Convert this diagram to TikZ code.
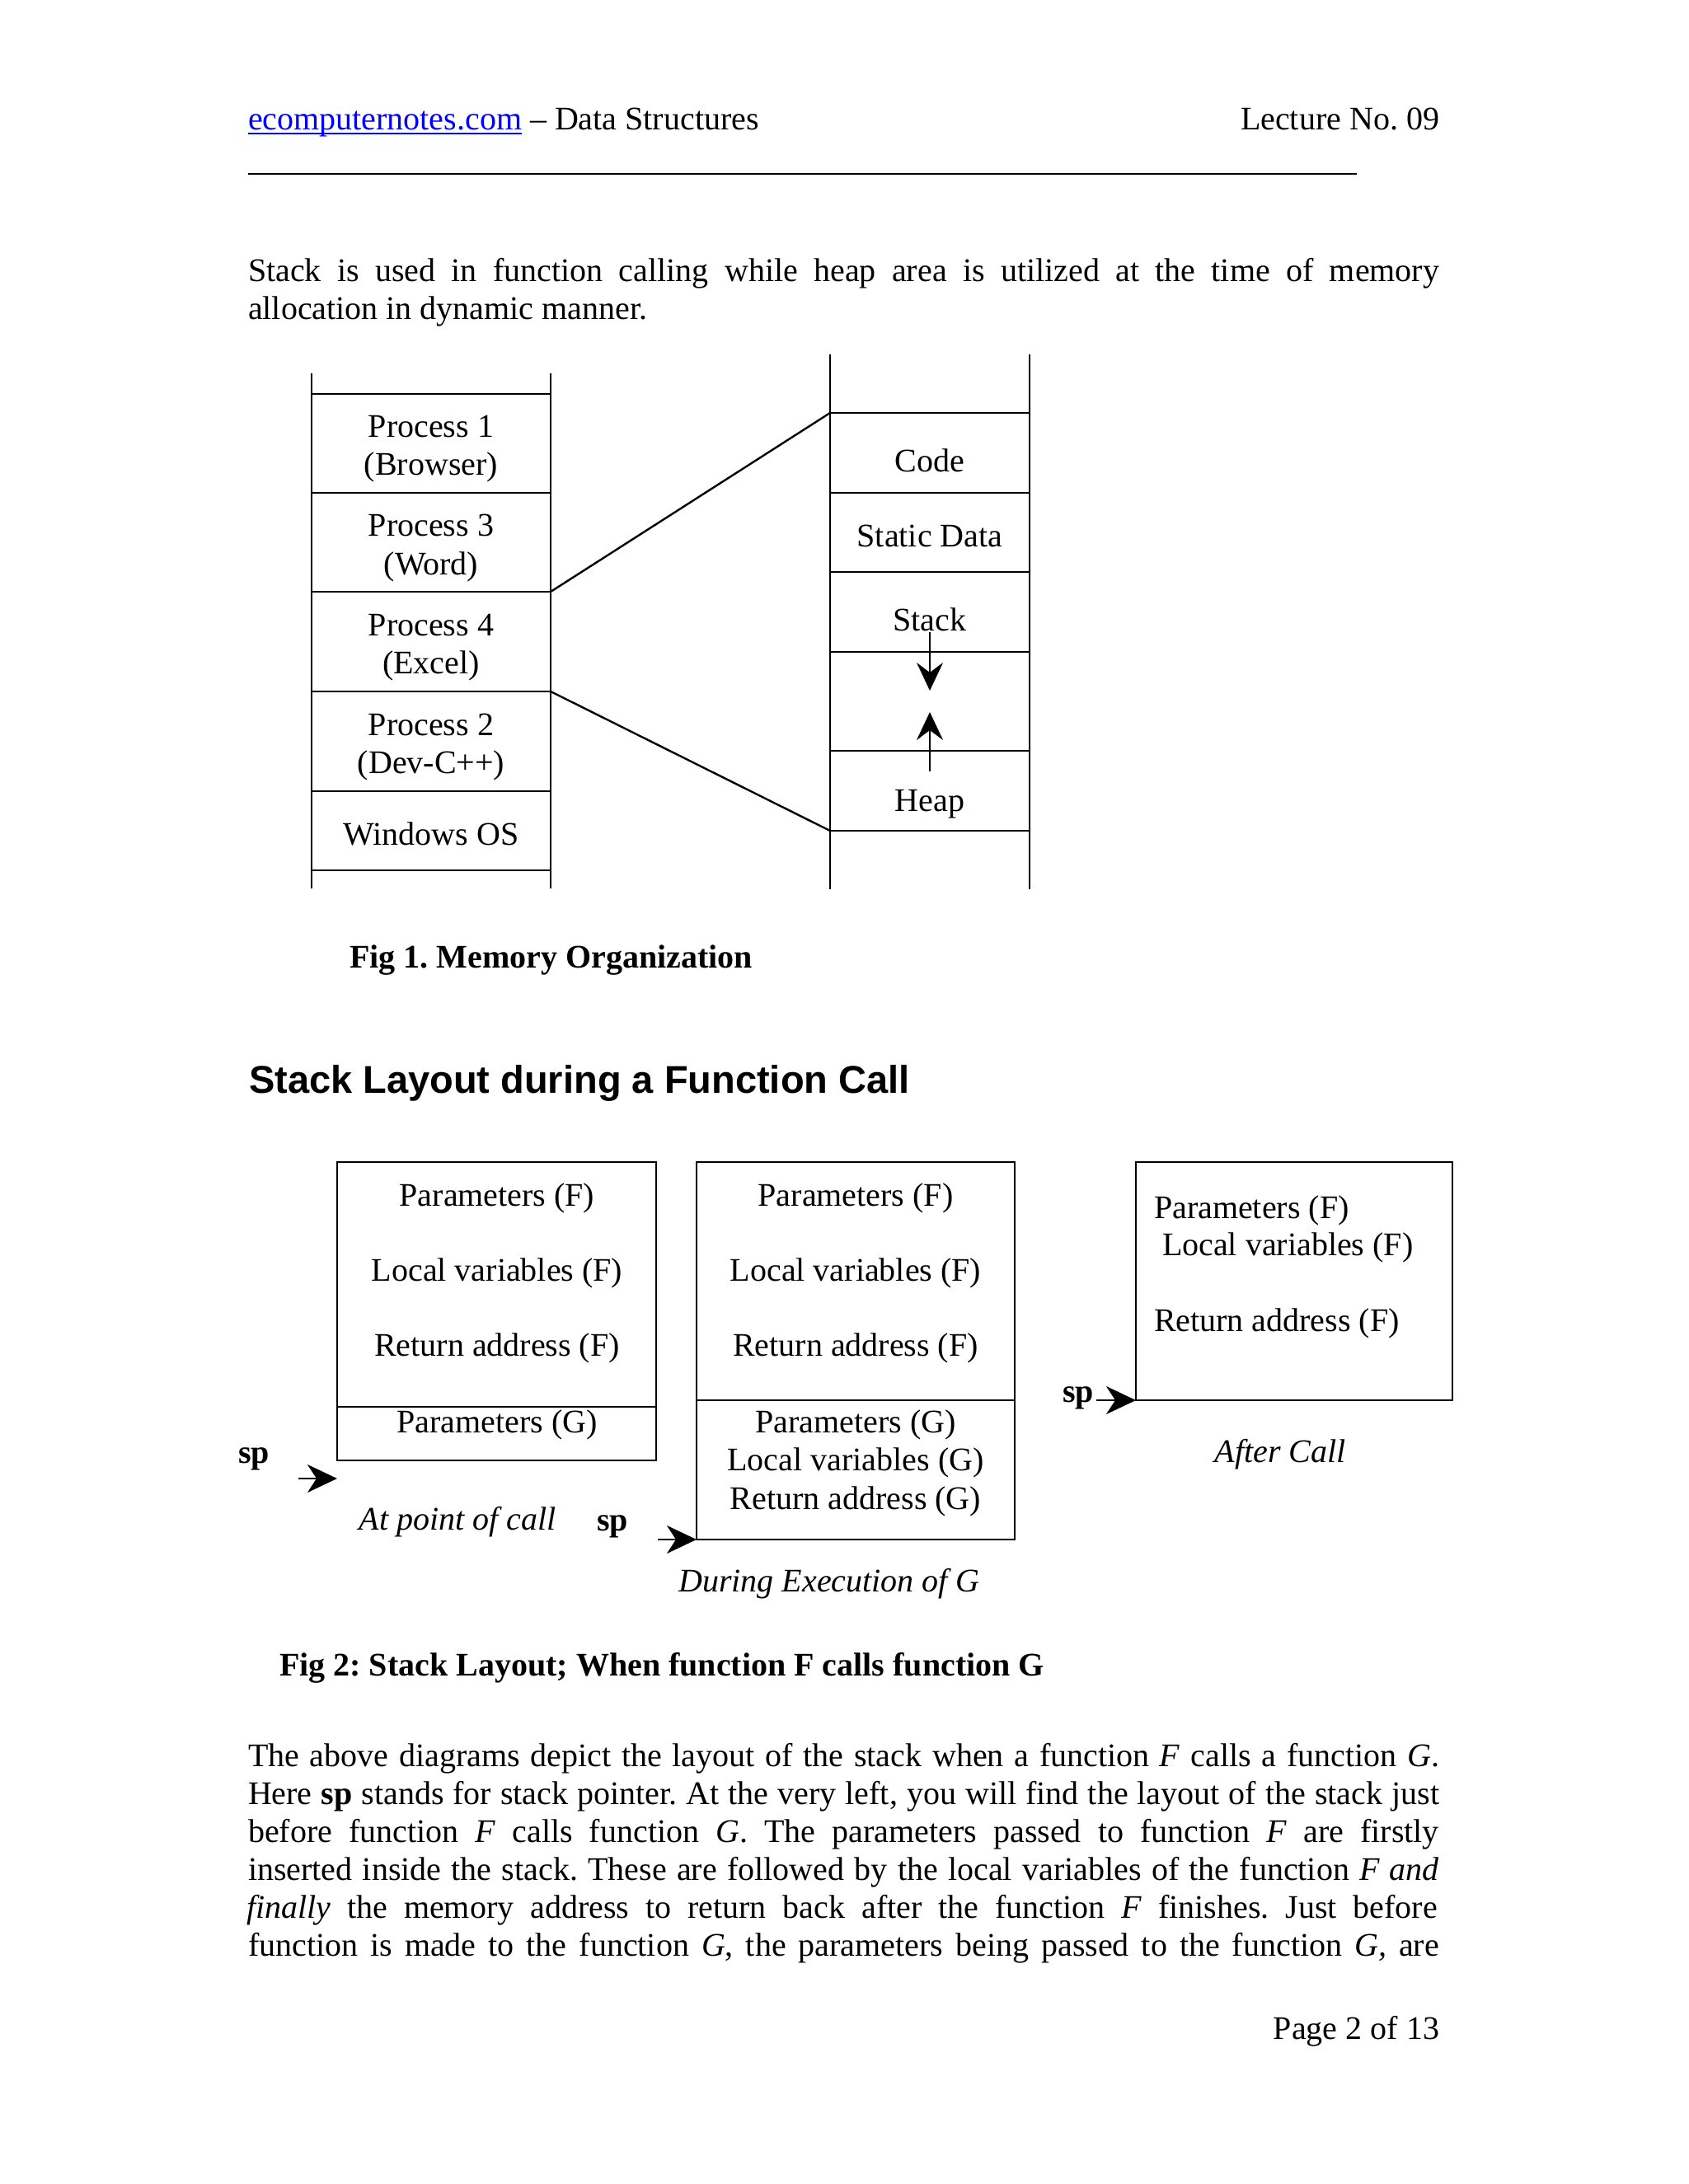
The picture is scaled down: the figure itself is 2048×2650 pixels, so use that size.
\documentclass[tikz,border=0pt]{standalone}
\usepackage{fontspec}
\setmainfont{Liberation Serif}
\newfontfamily\headfont{Liberation Sans}
\usetikzlibrary{arrows.meta}
\newcommand{\jline}[1]{\makebox[1445pt][s]{#1}}
\frenchspacing
\begin{document}
\frenchspacing
\begin{tikzpicture}[x=1pt,y=-1pt,
  every node/.style={inner sep=0pt, outer sep=0pt, font=\fontsize{40}{46}\selectfont},
  lnw/.style={line width=2.4pt},
  growtip/.style={-{Stealth[length=34pt,width=32pt,inset=12pt]}, line width=2.4pt},
  sptip/.style={-{Stealth[length=36pt,width=34pt,inset=11pt]}, line width=2.4pt},
  splabel/.style={font=\fontsize{40}{46}\selectfont\bfseries, anchor=base},
  itlabel/.style={font=\fontsize{40}{46}\selectfont\itshape, anchor=base},
  boldcap/.style={font=\fontsize{40}{46}\selectfont\bfseries, anchor=base west},
  cell/.style={anchor=base}]
\useasboundingbox[fill=white] (0,0) rectangle (2048,2650);

% ---------- header ----------
\node[anchor=base west, text=blue] (url) at (301,157) {ecomputernotes.com};
\draw[blue, line width=2pt] ([yshift=-5pt]url.base west) -- ([yshift=-5pt]url.base east);
\node[anchor=base west] (hdr) at (url.base east) {~– Data Structures};
\node[anchor=base east] (lec) at (1746,157) {Lecture No. 09};
\coordinate (ruleA) at (301,211);
\coordinate (ruleB) at (1646,211);
\draw[lnw] (ruleA) -- (ruleB);

% ---------- intro paragraph ----------
\node[anchor=base west] (p1a) at (301,341) {\jline{Stack is used in function calling while heap area is utilized at the time of memory}};
\node[anchor=base west] (p1b) at (301,387) {allocation in dynamic manner.};

% ---------- Fig 1 left column ----------
\draw[lnw] (378,453) -- (378,1078);
\draw[lnw] (668,453) -- (668,1078);
\foreach \yy in {478,598,718,839,960,1056} \draw[lnw] (378,\yy) -- (668,\yy);
\node[cell] (pr1a) at (523,530) {Process 1};
\node[cell] (pr1b) at (523,576) {(Browser)};
\node[cell] (pr3a) at (523,650) {Process 3};
\node[cell] (pr3b) at (523,697) {(Word)};
\node[cell] (pr4a) at (523,771) {Process 4};
\node[cell] (pr4b) at (523,817) {(Excel)};
\node[cell] (pr2a) at (523,892) {Process 2};
\node[cell] (pr2b) at (523,938) {(Dev-C++)};
\node[cell] (win) at (523,1025) {Windows OS};

% ---------- Fig 1 right column ----------
\draw[lnw] (1007,430) -- (1007,1079);
\draw[lnw] (1249,430) -- (1249,1079);
\foreach \yy in {501,598,694,791,911,1008} \draw[lnw] (1007,\yy) -- (1249,\yy);
\node[cell] (code) at (1128,572) {Code};
\node[cell] (sdata) at (1128,663) {Static Data};
\node[cell] (stk) at (1128,765) {Stack};
\node[cell] (heap) at (1128,984) {Heap};
\coordinate (stkFrom) at (1128,767);
\coordinate (stkTo) at (1128,838);
\coordinate (hpFrom) at (1128,936);
\coordinate (hpTo) at (1128,864);
\draw[growtip] (stkFrom) -- (stkTo);
\draw[growtip] (hpFrom) -- (hpTo);

% zoom lines
\coordinate (p3bot) at (668,718);
\coordinate (codeTop) at (1007,501);
\coordinate (p2top) at (668,839);
\coordinate (heapBot) at (1007,1008);
\draw[lnw] (p3bot) -- (codeTop);
\draw[lnw] (p2top) -- (heapBot);

\node[boldcap] (fig1) at (424,1174) {Fig 1. Memory Organization};

% ---------- heading ----------
\node[anchor=base west, font=\headfont\bfseries\fontsize{47}{54}\selectfont] (head) at (302,1326) {Stack Layout during a Function Call};

% ---------- Fig 2 ----------
% box 1
\draw[lnw] (409,1410) rectangle (796,1772);
\draw[lnw] (409,1707) -- (796,1707);
\node[cell] (b1a) at (603,1463) {Parameters (F)};
\node[cell] (b1b) at (603,1554) {Local variables (F)};
\node[cell] (b1c) at (603,1645) {Return address (F)};
\node[cell] (b1d) at (603,1738) {Parameters (G)};
% box 2
\draw[lnw] (845,1410) rectangle (1231,1868);
\draw[lnw] (845,1699) -- (1231,1699);
\node[cell] (b2a) at (1038,1463) {Parameters (F)};
\node[cell] (b2b) at (1038,1554) {Local variables (F)};
\node[cell] (b2c) at (1038,1645) {Return address (F)};
\node[cell] (b2d) at (1038,1738) {Parameters (G)};
\node[cell] (b2e) at (1038,1784) {Local variables (G)};
\node[cell] (b2f) at (1038,1831) {Return address (G)};
% box 3
\draw[lnw] (1378,1410) rectangle (1762,1699);
\node[anchor=base west] (b3a) at (1400,1478) {Parameters (F)};
\node[anchor=base west] (b3b) at (1410,1523) {Local variables (F)};
\node[anchor=base west] (b3c) at (1400,1615) {Return address (F)};

% sp pointers
\node[splabel] (sp1) at (308,1775) {sp};
\coordinate (sp1from) at (362,1794);
\coordinate (sp1to) at (409,1794);
\draw[sptip] (sp1from) -- (sp1to);
\node[splabel] (sp2) at (743,1857) {sp};
\coordinate (sp2from) at (798,1868);
\coordinate (sp2to) at (845,1868);
\draw[sptip] (sp2from) -- (sp2to);
\node[splabel] (sp3) at (1308,1701) {sp};
\coordinate (sp3from) at (1330,1699);
\coordinate (sp3to) at (1378,1699);
\draw[sptip] (sp3from) -- (sp3to);

\node[itlabel] (c1) at (555,1856) {At point of call};
\node[itlabel] (c2) at (1006,1931) {During Execution of G};
\node[itlabel] (c3) at (1553,1774) {After Call};

\node[boldcap] (fig2) at (339,2033) {Fig 2: Stack Layout; When function F calls function G};

% ---------- bottom paragraph ----------
\node[anchor=base west] (q1) at (301,2143) {\jline{The above diagrams depict the layout of the stack when a function \textit{F} calls a function \textit{G}.}};
\node[anchor=base west] (q2) at (301,2189) {\jline{Here \textbf{sp} stands for stack pointer. At the very left, you will find the layout of the stack just}};
\node[anchor=base west] (q3) at (301,2235) {\jline{before function \textit{F} calls function \textit{G}. The parameters passed to function \textit{F} are firstly}};
\node[anchor=base west] (q4) at (301,2281) {\jline{inserted inside the stack. These are followed by the local variables of the function \textit{F and}}};
\node[anchor=base west] (q5) at (299,2327) {\jline{\textit{finally} the memory address to return back after the function \textit{F} finishes. Just before}};
\node[anchor=base west] (q6) at (301,2373) {\jline{function is made to the function \textit{G}, the parameters being passed to the function \textit{G,} are}};

\node[anchor=base east] (pg) at (1746,2474) {Page 2 of 13};
\end{tikzpicture}
\end{document}
